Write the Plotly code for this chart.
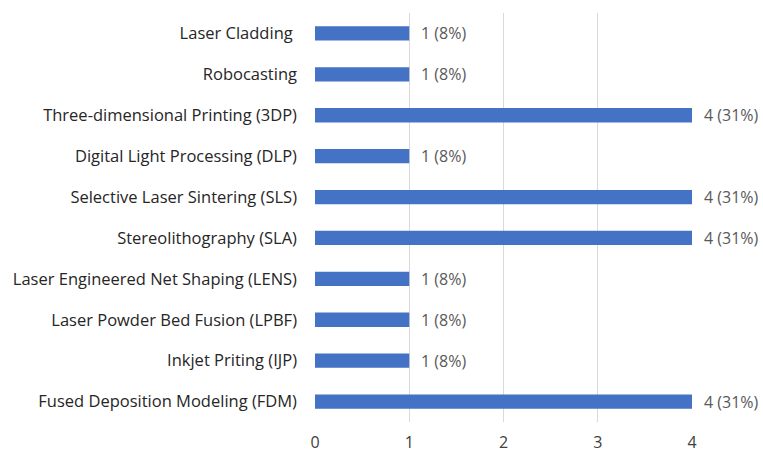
import plotly.graph_objects as go

# Additive manufacturing techniques, listed top to bottom
techniques = [
    "Laser Cladding\u00a0",
    "Robocasting",
    "Three-dimensional Printing (3DP)",
    "Digital Light Processing (DLP)",
    "Selective Laser Sintering (SLS)",
    "Stereolithography (SLA)",
    "Laser Engineered Net Shaping (LENS)",
    "Laser Powder Bed Fusion (LPBF)",
    "Inkjet Priting (IJP)",
    "Fused Deposition Modeling (FDM)",
]
counts = [1, 1, 4, 1, 4, 4, 1, 1, 1, 4]
percents = [8, 8, 31, 8, 31, 31, 8, 8, 8, 31]
x_ticks = [0, 1, 2, 3, 4]

labels = [f"{c} ({p}%)" for c, p in zip(counts, percents)]

FONT = "Open Sans, Liberation Sans, sans-serif"

fig = go.Figure(
    go.Bar(
        x=counts,
        y=techniques,
        orientation="h",
        marker=dict(color="#4472C4", line=dict(width=0)),
        hoverinfo="x+y",
    )
)

# value labels just past the end of each bar
for tech, c, lab in zip(techniques, counts, labels):
    fig.add_annotation(
        x=c,
        y=tech,
        text=lab,
        showarrow=False,
        xanchor="left",
        xshift=10,
        font=dict(family=FONT, size=16, color="#595959"),
    )

fig.update_layout(
    width=763,
    height=455,
    margin=dict(l=315, r=71, t=13, b=33, autoexpand=False),
    paper_bgcolor="white",
    plot_bgcolor="white",
    bargap=0.65,
    showlegend=False,
    font=dict(family=FONT, size=14, color="#404040"),
    xaxis=dict(
        range=[0, 4],
        tickvals=x_ticks,
        showgrid=True,
        gridcolor="#D9D9D9",
        gridwidth=1,
        zeroline=False,
        showline=False,
        ticks="",
        ticklabelstandoff=9,
        tickfont=dict(family=FONT, size=16, color="#404040"),
        automargin=False,
        fixedrange=True,
    ),
    yaxis=dict(
        autorange="reversed",
        showgrid=False,
        zeroline=False,
        showline=False,
        ticks="",
        ticklabelstandoff=17,
        tickfont=dict(family=FONT, size=16.5, color="#262626"),
        automargin=False,
        fixedrange=True,
    ),
)

fig.write_html("out.html")
